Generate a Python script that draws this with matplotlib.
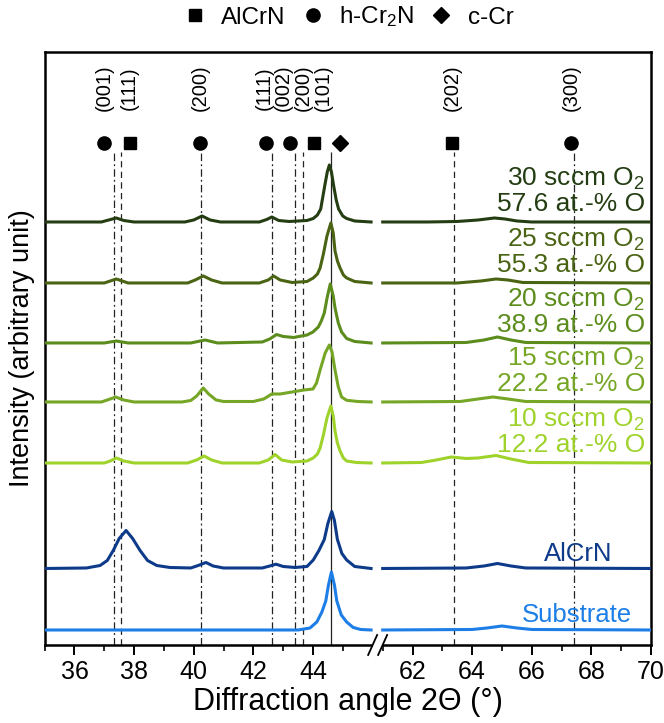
import numpy as np
import matplotlib.pyplot as plt
from matplotlib.lines import Line2D

plt.rcParams['font.family'] = ['Liberation Sans', 'DejaVu Sans']
plt.rcParams['mathtext.fontset'] = 'custom'
plt.rcParams['mathtext.rm'] = 'Liberation Sans'
plt.rcParams['mathtext.it'] = 'Liberation Sans:italic'
plt.rcParams['mathtext.bf'] = 'Liberation Sans:bold'

# XRD patterns: 2theta (deg) and intensity above each pattern's baseline (arb. units)
x_30 = [35.0, 36.9, 37.15, 37.4, 37.65, 38.0, 39.7, 40.0, 40.28, 40.55, 40.9, 42.2, 42.45, 42.62,
        42.85, 43.2, 43.8, 44.01, 44.15, 44.26, 44.4, 44.48, 44.55, 44.62, 44.69, 44.78, 44.86,
        45.0, 45.13, 45.4, 45.95,
        61.0, 62.5, 63.5, 64.2, 64.75, 65.1, 65.5, 66.0, 70.0]
i_30 = [0, 0, 2, 4, 1.5, 0, 0, 2, 6, 2, 0, 0, 2.5, 5,
        1.5, 0.5, 1.5, 3.5, 7, 13, 37, 50, 57, 50, 37, 22, 13,
        6, 3.5, 1, 0,
        0, 0, 0.5, 2, 4, 3, 1, 0, 0]

x_25 = [35.0, 37.0, 37.4, 37.8, 39.8, 40.05, 40.32, 40.6, 40.95, 42.2, 42.5, 42.68, 42.9, 43.3,
        43.8, 44.01, 44.15, 44.24, 44.35, 44.47, 44.6, 44.68, 44.74, 44.82, 44.91, 45.02, 45.13,
        45.4, 45.95,
        61.0, 63.5, 64.3, 64.8, 65.2, 65.7, 70.0]
i_25 = [0, 0, 4, 0, 0, 3, 7, 3, 0, 0, 3, 7, 3, 0.5,
        1.5, 5, 9, 15, 29, 47, 60, 50, 32, 22, 15, 8, 5,
        1.5, 0,
        0, 0, 2, 4, 3, 0.5, 0]

x_20 = [35.0, 37.0, 37.4, 37.8, 39.9, 40.38, 40.8, 42.3, 42.55, 42.78, 43.0, 43.35, 43.8, 44.0,
        44.18, 44.28, 44.38, 44.48, 44.58, 44.68, 44.74, 44.85, 44.96, 45.13, 45.4, 45.95,
        61.0, 63.8, 64.4, 64.85, 65.3, 65.8, 70.0]
i_20 = [0, 0, 2, 0, 0, 3, 0, 1, 4, 8.5, 6.5, 5.5, 8, 11,
        16, 22, 30, 46, 59, 47, 35, 20, 11, 4.5, 1.5, 0,
        0, 0.5, 3, 6, 3, 0.5, 0]

x_15 = [35.0, 36.9, 37.15, 37.38, 37.65, 38.0, 39.6, 39.9, 40.1, 40.32, 40.5, 40.75, 41.0, 42.0,
        42.35, 42.62, 42.9, 43.3, 43.7, 44.0, 44.12, 44.24, 44.41, 44.55, 44.64, 44.74, 44.85,
        44.96, 45.13, 45.5, 45.95,
        61.0, 63.6, 64.2, 64.7, 65.2, 65.8, 70.0]
i_15 = [0, 0, 2.5, 5, 2, 0, 0, 1.5, 6, 14, 8, 2, 0.5, 0.5,
        3, 8, 8, 10, 12, 13, 19, 32, 49, 57, 50, 32, 15,
        5, 1.7, 0.5, 0,
        0, 0.5, 3, 5, 3, 0.5, 0]

x_10 = [35.0, 37.0, 37.2, 37.41, 37.65, 38.0, 39.8, 40.1, 40.35, 40.6, 40.95, 42.2, 42.5, 42.73,
        42.95, 43.3, 43.8, 44.01, 44.15, 44.24, 44.35, 44.47, 44.6, 44.68, 44.74, 44.82, 44.91,
        45.02, 45.13, 45.45, 45.95,
        61.0, 62.3, 62.8, 63.3, 63.8, 64.2, 64.8, 65.3, 65.9, 70.0]
i_10 = [0, 0, 2, 5, 2, 0, 0, 3, 7, 3, 0, 0, 3, 8.5,
        3, 1, 2, 5, 9, 15, 28, 45, 57, 47, 32, 20, 12,
        5, 2, 0.5, 0,
        0, 0.5, 3, 6, 4.5, 5, 7.5, 4, 0.5, 0]

x_alcrn = [35.0, 36.4, 36.86, 37.1, 37.3, 37.5, 37.73, 37.95, 38.2, 38.45, 38.76, 39.2, 39.9,
           40.15, 40.41, 40.65, 41.0, 42.3, 42.55, 42.76, 43.0, 43.4, 43.8, 44.01, 44.2, 44.38,
           44.5, 44.63, 44.72, 44.82, 44.97, 45.13, 45.4, 45.95,
           61.0, 63.8, 64.4, 64.85, 65.3, 65.8, 70.0]
i_alcrn = [0, 0.5, 3, 8, 18, 30, 38, 30, 18, 8, 3, 1, 0.5,
           3, 6, 2.5, 0.5, 0.5, 2.5, 4.3, 2, 1, 2, 8.5, 18, 29,
           45, 57, 48, 29, 15, 8.5, 2, 0,
           0, 0.5, 2.5, 5, 2.5, 0.5, 0]

x_sub = [35.0, 43.5, 43.9, 44.13, 44.3, 44.43, 44.52, 44.62, 44.72, 44.8, 44.95, 45.13, 45.35,
         45.6, 45.95,
         61.0, 64.0, 64.5, 65.0, 65.5, 66.0, 70.0]
i_sub = [0, 0, 2, 8, 18, 29, 45, 58, 45, 29, 15, 8, 2.5,
         0.5, 0,
         0, 0.5, 2, 4, 2, 0.5, 0]

patterns = [(x_30, i_30), (x_25, i_25), (x_20, i_20), (x_15, i_15),
            (x_10, i_10), (x_alcrn, i_alcrn), (x_sub, i_sub)]
offsets = [423, 362, 302, 243, 182, 76.5, 15]
colors = ['#243d12', '#4a6414', '#5b8c1c', '#76a626', '#9fd32c', '#0d3b8a', '#1c7ee6']
sccm = ['30', '25', '20', '15', '10']
oxygen = ['57.6', '55.3', '38.9', '22.2', '12.2']

# reference reflections (2theta)
hcr2n_pos = [37.33, 40.24, 42.64, 43.39, 67.43]
alcrn_pos = [37.57, 43.68, 63.38]
ccr_pos = [44.6]

# broken 2theta axis: 35-46 and 61-70 with a narrow gap between
GAP = 0.34


def fwd(x):
    x = np.asarray(x, dtype=float)
    return np.where(x <= 46, x - 35,
                    np.where(x >= 61, x - 61 + 11 + GAP, 11 + (x - 46) * GAP / 15))


def inv(u):
    u = np.asarray(u, dtype=float)
    return np.where(u <= 11, u + 35,
                    np.where(u >= 11 + GAP, u - 11 - GAP + 61, 46 + (u - 11) * 15 / GAP))


fig = plt.figure(figsize=(6.64, 7.23), dpi=100)
ax = fig.add_axes([0.0673, 0.1079, 0.9131, 0.8202])
ax.set_xscale('function', functions=(fwd, inv))
ax.set_xlim(35, 70)
ax.set_ylim(0, 593)

for (xs, ys), off, col in zip(patterns, offsets, colors):
    xs = np.array(xs)
    ys = np.array(ys) + off
    left = xs <= 46
    ax.plot(xs[left], ys[left], color=col, lw=2.2, zorder=3)
    ax.plot(xs[~left], ys[~left], color=col, lw=2.2, zorder=3)

ax.vlines(hcr2n_pos, 0, 493, colors='#222222', lw=0.9, linestyles=[(0, (6, 2.5, 1.5, 2.5))], zorder=2)
ax.vlines(alcrn_pos, 0, 493, colors='#222222', lw=0.9, linestyles=[(0, (5, 3.5))], zorder=2)
ax.vlines(ccr_pos, 0, 493, colors='#222222', lw=0.9, linestyles='-', zorder=2)

# phase symbols and Miller indices above the patterns
tags = [(36.99, 36.99, 'o', '(001)'), (37.86, 37.84, 's', '(111)'), (40.21, 40.21, 'o', '(200)'),
        (42.42, 42.37, 'o', '(111)'), (43.23, 43.02, 'o', '(002)'), (44.03, 43.67, 's', '(200)'),
        (44.91, 44.33, 'D', '(101)'), (63.32, 63.32, 's', '(202)'), (67.32, 67.32, 'o', '(300)')]
msize = {'o': 9.5, 's': 8, 'D': 8}
for xm, xt, m, hkl in tags:
    ax.plot(xm, 502, marker=m, color='black', ms=msize[m], ls='none', zorder=4)
    ax.text(xt, 557, hkl, rotation=90, ha='center', va='center', fontsize=14.5)

for k in range(5):
    off = offsets[k]
    ax.text(69.8, off + 36, f'{sccm[k]} sccm O$_2$', color=colors[k], fontsize=19,
            ha='right', va='baseline')
    ax.text(69.8, off + 11, f'{oxygen[k]} at.-% O', color=colors[k], fontsize=19,
            ha='right', va='baseline')
ax.text(68.7, offsets[5] + 7, 'AlCrN', color=colors[5], fontsize=18.5, ha='right', va='baseline')
ax.text(69.36, offsets[6] + 7.5, 'Substrate', color=colors[6], fontsize=18.5, ha='right', va='baseline')

ax.set_xticks([36, 38, 40, 42, 44, 62, 64, 66, 68, 70])
ax.set_xticks([35, 37, 39, 41, 43, 45, 61, 63, 65, 67, 69], minor=True)
ax.set_yticks([])
ax.tick_params(axis='x', which='major', direction='out', length=7, width=1.4, labelsize=18, pad=4)
ax.tick_params(axis='x', which='minor', direction='out', length=4, width=1.2)
for sp in ax.spines.values():
    sp.set_linewidth(1.8)

ax.set_xlabel('Diffraction angle 2Θ (°)', fontsize=22, labelpad=2)
ax.set_ylabel('Intensity (arbitrary unit)', fontsize=19.5, labelpad=7)

# axis break marks on the bottom spine
c = float(fwd(53.5) / fwd(70))
w_px, h_px = 606.0, 593.0
dx, dy, sep = 4.5 / w_px, 10 / h_px, 5 / w_px
ax.plot([c - sep, c + sep], [0, 0], color='white', lw=3, transform=ax.transAxes,
        clip_on=False, zorder=5, solid_capstyle='butt')
for s in (-sep, sep):
    ax.plot([c + s - dx, c + s + dx], [-dy, dy], color='black', lw=1.3,
            transform=ax.transAxes, clip_on=False, zorder=6)

handles = [Line2D([], [], marker='s', color='black', ls='none', ms=8),
           Line2D([], [], marker='o', color='black', ls='none', ms=9.5),
           Line2D([], [], marker='D', color='black', ls='none', ms=8)]
fig.legend(handles, ['AlCrN', 'h-Cr$_2$N', 'c-Cr'], loc='upper center',
           bbox_to_anchor=(0.524, 1.024), ncol=3, frameon=False, fontsize=17.5,
           handletextpad=0.6, columnspacing=0.6, handlelength=1.0)

fig.savefig('out.png', dpi=100)
